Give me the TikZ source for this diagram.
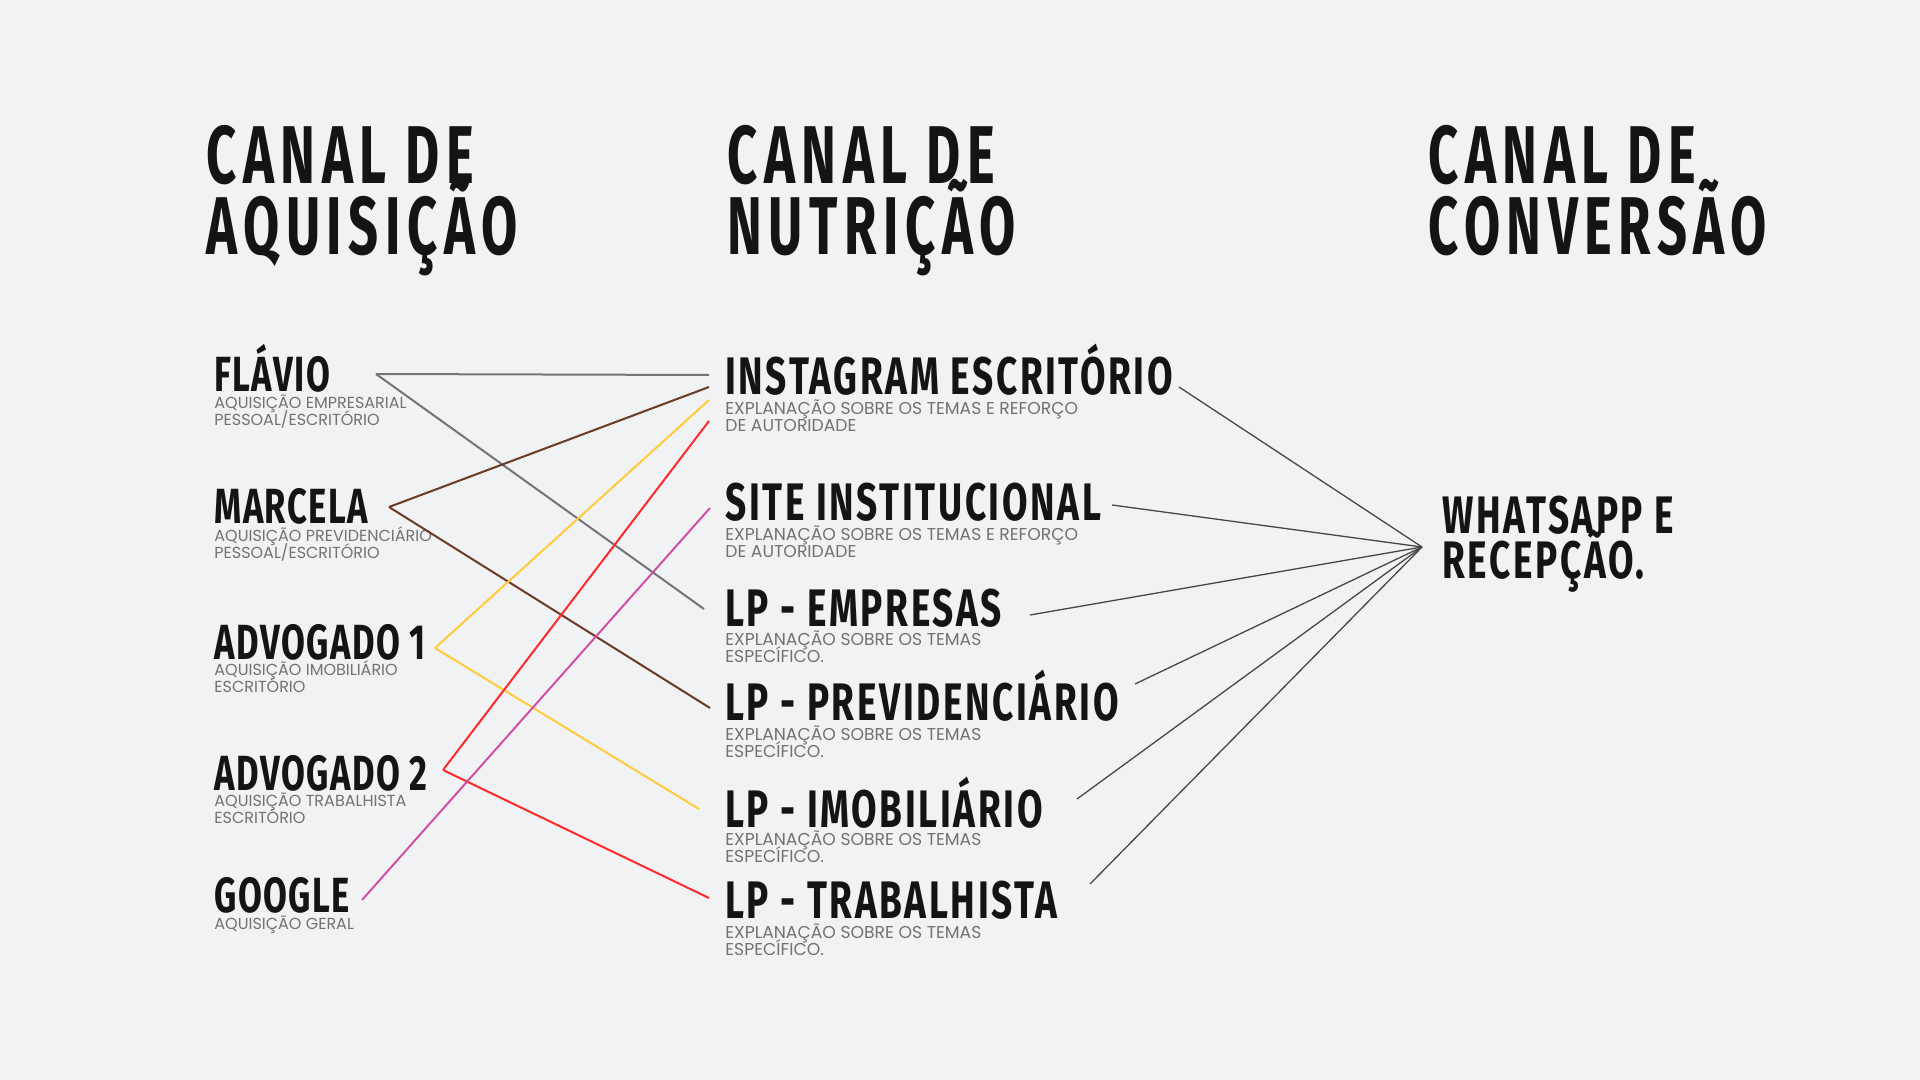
\documentclass[tikz,border=0pt]{standalone}
\usepackage{fontspec}
\setmainfont{Fira Sans}
\newfontfamily\headfont{Fira Sans}[FakeStretch=0.64,LetterSpace=8]
\newfontfamily\namefont{Fira Sans}[FakeStretch=0.70,LetterSpace=3]
\newfontfamily\midfont{Fira Sans}[FakeStretch=0.70,LetterSpace=5]
\newfontfamily\notefont{Poppins}
\newcommand\tightlines{\lineskiplimit=-40pt\relax}

\definecolor{paper}{HTML}{F1F2F4}
\definecolor{ink}{HTML}{141414}
\definecolor{notegray}{HTML}{727272}
\definecolor{flaviogray}{HTML}{747474}
\definecolor{marcelabrown}{HTML}{6B3B26}
\definecolor{advoneyellow}{HTML}{FFCB3D}
\definecolor{advtwored}{HTML}{FF2A2A}
\definecolor{googlepink}{HTML}{D24FA8}
\definecolor{hubgray}{HTML}{474747}

\begin{document}
\begin{tikzpicture}[x=0.5pt, y=-0.5pt,
    headtext/.style = {anchor=base west, inner sep=0, align=left, text=ink,
                   font=\headfont\bfseries\fontsize{41}{35.5}\selectfont\tightlines},
    chantext/.style = {anchor=base west, inner sep=0, align=left, text=ink,
                   font=\namefont\bfseries\fontsize{24.7}{22.5}\selectfont},
    midtext/.style  = {anchor=base west, inner sep=0, align=left, text=ink,
                   font=\midfont\bfseries\fontsize{26.4}{22.5}\selectfont\tightlines},
    notetext/.style = {anchor=base west, inner sep=0, align=left, text=notegray,
                   font=\notefont\fontsize{8.0}{8.5}\selectfont\tightlines},
    midnote/.style  = {notetext, font=\notefont\fontsize{8.6}{8.5}\selectfont\tightlines},
    link/.style = {line width=1pt},
    hubline/.style  = {line width=0.65pt, hubgray}]
    \fill[paper] (0,0) rectangle (1920,1080);

    % titles (anchored on the last line)
    \node[headtext] (acq)  at (206,255)  {CANAL DE\\AQUISIÇÃO};
    \node[headtext] (nut)  at (727,255)  {CANAL DE\\NUTRIÇÃO};
    \node[headtext] (conv) at (1428,255) {CANAL DE\\CONVERSÃO};

    % acquisition channels
    \node[chantext] (flavio)  at (214,392) {FLÁVIO};
    \node[notetext] (flavio-sub)  at (214,425) {AQUISIÇÃO EMPRESARIAL\\PESSOAL/ESCRITÓRIO};
    \node[chantext] (marcela) at (214,523) {MARCELA};
    \node[notetext] (marcela-sub) at (214,558) {AQUISIÇÃO PREVIDENCIÁRIO\\PESSOAL/ESCRITÓRIO};
    \node[chantext] (adv1)    at (214,659) {ADVOGADO 1};
    \node[notetext] (adv1-sub)    at (214,692) {AQUISIÇÃO IMOBILIÁRIO\\ESCRITÓRIO};
    \node[chantext] (adv2)    at (214,790) {ADVOGADO 2};
    \node[notetext] (adv2-sub)    at (214,823) {AQUISIÇÃO TRABALHISTA\\ESCRITÓRIO};
    \node[chantext] (google)  at (214,912) {GOOGLE};
    \node[notetext] (google-sub)  at (214,929) {AQUISIÇÃO GERAL};

    % nurture channels
    \node[midtext] (insta) at (725,394) {INSTAGRAM ESCRITÓRIO};
    \node[midnote] (insta-sub) at (725,431) {EXPLANAÇÃO SOBRE OS TEMAS E REFORÇO\\DE AUTORIDADE};
    \node[midtext] (site)  at (725,520) {SITE INSTITUCIONAL};
    \node[midnote] (site-sub)  at (725,557) {EXPLANAÇÃO SOBRE OS TEMAS E REFORÇO\\DE AUTORIDADE};
    \node[midtext] (emp)   at (725,626) {LP - EMPRESAS};
    \node[midnote] (emp-sub)   at (725,662) {EXPLANAÇÃO SOBRE OS TEMAS\\ESPECÍFICO.};
    \node[midtext] (prev)  at (725,720) {LP - PREVIDENCIÁRIO};
    \node[midnote] (prev-sub)  at (725,757) {EXPLANAÇÃO SOBRE OS TEMAS\\ESPECÍFICO.};
    \node[midtext] (imob)  at (725,827) {LP - IMOBILIÁRIO};
    \node[midnote] (imob-sub)  at (725,862) {EXPLANAÇÃO SOBRE OS TEMAS\\ESPECÍFICO.};
    \node[midtext] (trab)  at (725,918) {LP - TRABALHISTA};
    \node[midnote] (trab-sub)  at (725,955) {EXPLANAÇÃO SOBRE OS TEMAS\\ESPECÍFICO.};

    % conversion channel
    \node[midtext] (whats) at (1442,578) {WHATSAPP E\\RECEPÇÃO.};

    % ports
    \coordinate (flavio-o)  at (376,374);
    \coordinate (marcela-o) at (389,507);
    \coordinate (adv1-o)    at (435,648);
    \coordinate (adv2-o)    at (443,770);
    \coordinate (google-o)  at (362,900);
    \coordinate (insta-i1) at (709,375);
    \coordinate (insta-i2) at (709,387);
    \coordinate (insta-i3) at (709,400);
    \coordinate (insta-i4) at (709,421);
    \coordinate (site-i)   at (710,508);
    \coordinate (emp-i)    at (704,609);
    \coordinate (prev-i)   at (710,708);
    \coordinate (imob-i)   at (699,809);
    \coordinate (trab-i)   at (709,898);
    \coordinate (insta-o) at (1179,387);
    \coordinate (site-o)  at (1112,505);
    \coordinate (emp-o)   at (1030,615);
    \coordinate (prev-o)  at (1135,684);
    \coordinate (imob-o)  at (1077,799);
    \coordinate (trab-o)  at (1090,884);
    \coordinate (whats-i) at (1422,547);

    % acquisition -> nurture
    \draw[link, flaviogray]   (flavio-o) -- (insta-i1);
    \draw[link, flaviogray]   (flavio-o) -- (emp-i);
    \draw[link, marcelabrown] (marcela-o) -- (insta-i2);
    \draw[link, marcelabrown] (marcela-o) -- (prev-i);
    \draw[link, advoneyellow] (adv1-o) -- (insta-i3);
    \draw[link, advoneyellow] (adv1-o) -- (imob-i);
    \draw[link, advtwored]    (adv2-o) -- (insta-i4);
    \draw[link, advtwored]    (adv2-o) -- (trab-i);
    \draw[link, googlepink]   (google-o) -- (site-i);

    % nurture -> conversion
    \foreach \n in {insta,site,emp,prev,imob,trab}
        \draw[hubline] (\n-o) -- (whats-i);
\end{tikzpicture}
\end{document}
